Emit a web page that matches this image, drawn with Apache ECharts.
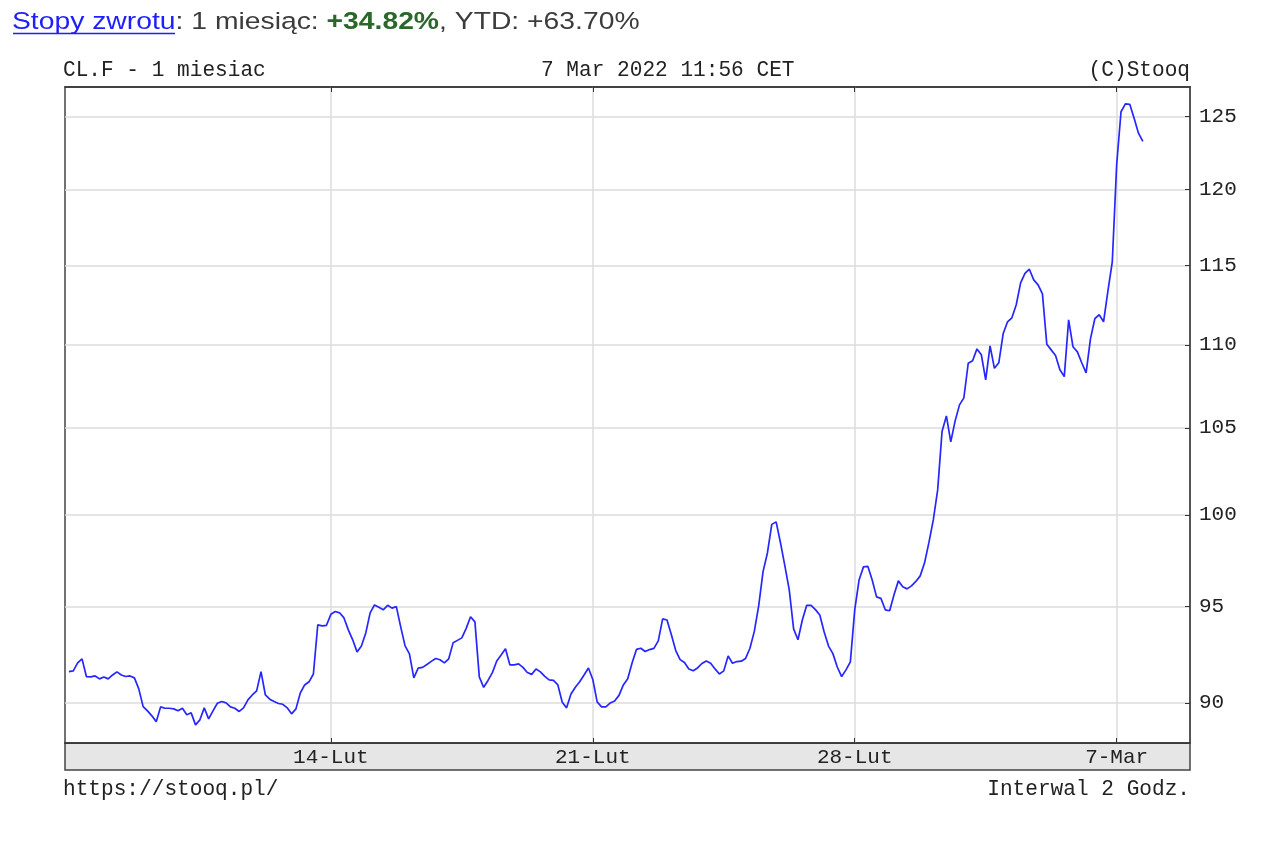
<!DOCTYPE html>
<html><head><meta charset="utf-8">
<script src="https://cdn.jsdelivr.net/npm/echarts@6/dist/echarts.min.js"></script>
<style>html,body{margin:0;padding:0;background:#fff}#c{width:1280px;height:853px}</style>
</head><body><div id="c"></div>
<script>
// 2-hour bars, index 0 = Mon 7-Lut 00:00 CET (60 bars per trading week)
const weekTicks = [60, 120, 180, 240];
const weekLabels = ['14-Lut', '21-Lut', '28-Lut', '7-Mar'];
const priceTicks = [90, 95, 100, 105, 110, 115, 120, 125];
const prices = [
  91.59, 91.63, 92.04, 92.25, 91.34, 91.32, 91.37, 91.22, 91.32, 91.22,
  91.42, 91.58, 91.42, 91.34, 91.37, 91.27, 90.71, 89.81, 89.60, 89.35,
  89.06, 89.80, 89.73, 89.73, 89.70, 89.60, 89.73, 89.40, 89.50, 88.90,
  89.15, 89.75, 89.20, 89.60, 89.98, 90.07, 90.00, 89.80, 89.73, 89.57,
  89.75, 90.15, 90.40, 90.61, 91.59, 90.40, 90.19, 90.07, 89.97, 89.93,
  89.75, 89.45, 89.70, 90.50, 90.91, 91.07, 91.47, 94.02, 93.97, 94.00,
  94.58, 94.73, 94.66, 94.39, 93.76, 93.24, 92.61, 92.92, 93.60, 94.66,
  95.08, 94.95, 94.82, 95.06, 94.91, 94.99, 93.92, 92.92, 92.51, 91.27,
  91.77, 91.81, 91.96, 92.12, 92.27, 92.20, 92.04, 92.25, 93.08, 93.21,
  93.34, 93.84, 94.45, 94.18, 91.32, 90.79, 91.14, 91.54, 92.14, 92.45,
  92.77, 91.94, 91.94, 91.99, 91.81, 91.55, 91.45, 91.73, 91.58, 91.35,
  91.17, 91.14, 90.91, 90.03, 89.75, 90.45, 90.79, 91.07, 91.42, 91.78,
  91.19, 90.05, 89.80, 89.80, 90.00, 90.10, 90.38, 90.91, 91.23, 92.03,
  92.74, 92.80, 92.63, 92.73, 92.79, 93.18, 94.34, 94.28, 93.50, 92.68,
  92.21, 92.06, 91.73, 91.64, 91.78, 92.01, 92.14, 92.02, 91.73, 91.47,
  91.63, 92.40, 92.02, 92.11, 92.13, 92.27, 92.80, 93.68, 95.03, 96.87,
  97.89, 99.47, 99.61, 98.44, 97.18, 95.89, 93.81, 93.24, 94.28, 95.06,
  95.06, 94.83, 94.54, 93.65, 92.91, 92.52, 91.83, 91.34, 91.68, 92.09,
  94.82, 96.42, 97.13, 97.16, 96.42, 95.51, 95.43, 94.82, 94.77, 95.62,
  96.37, 96.05, 95.94, 96.10, 96.34, 96.64, 97.35, 98.47, 99.72, 101.41,
  104.78, 105.70, 104.18, 105.41, 106.36, 106.78, 108.87, 109.02, 109.75, 109.39,
  107.86, 109.94, 108.56, 108.90, 110.68, 111.43, 111.68, 112.50, 113.89, 114.50,
  114.76, 114.08, 113.76, 113.19, 110.03, 109.69, 109.34, 108.47, 108.06, 111.55,
  109.88, 109.57, 108.90, 108.29, 110.37, 111.62, 111.87, 111.43, 113.38, 115.24,
  121.68, 125.35, 125.91, 125.87, 124.89, 123.85, 123.28
];

const mono = '"Liberation Mono", "DejaVu Sans Mono", monospace';
const sans = '"Liberation Sans", Arial, sans-serif';
const chart = echarts.init(document.getElementById('c'), null, {renderer: 'canvas'});
chart.setOption({
  animation: false,
  backgroundColor: '#ffffff',
  graphic: [
    {type: 'rect', z: -10, shape: {x: 65, y: 743, width: 1125, height: 27},
     style: {fill: '#e6e6e6', stroke: '#444', lineWidth: 1.5}},
    {type: 'text', x: 12, y: 10, scaleX: 1.155, style: {
      text: '{a|Stopy zwrotu}{b|: 1 miesiąc: }{c|+34.82%}{b|, YTD: +63.70%}',
      verticalAlign: 'top',
      rich: {
        a: {font: '24.5px ' + sans, fill: '#1e1eff'},
        b: {font: '24.5px ' + sans, fill: '#3c3c3c'},
        c: {font: 'bold 24.5px ' + sans, fill: '#2b672b'}
      }
    }},
    {type: 'line', shape: {x1: 13, y1: 33.5, x2: 175, y2: 33.5}, style: {stroke: '#1e1eff', lineWidth: 1.4}},
    {type: 'text', x: 63, y: 59, scaleX: 0.96, style: {text: 'CL.F - 1 miesiac', font: '22px ' + mono, fill: '#222', verticalAlign: 'top'}},
    {type: 'text', x: 541, y: 59, scaleX: 0.96, style: {text: '7 Mar 2022 11:56 CET', font: '22px ' + mono, fill: '#222', verticalAlign: 'top'}},
    {type: 'text', x: 1190, y: 59, scaleX: 0.96, style: {text: '(C)Stooq', font: '22px ' + mono, fill: '#222', align: 'right', verticalAlign: 'top'}},
    {type: 'text', x: 63, y: 778, scaleX: 0.96, style: {text: 'https://stooq.pl/', font: '22px ' + mono, fill: '#222', verticalAlign: 'top'}},
    {type: 'text', x: 1190, y: 778, scaleX: 0.96, style: {text: 'Interwal 2 Godz.', font: '22px ' + mono, fill: '#222', align: 'right', verticalAlign: 'top'}}
  ],
  grid: {left: 65, right: 90, top: 87, bottom: 110, show: true, borderColor: '#444', borderWidth: 1.5, backgroundColor: '#fff'},
  xAxis: [
    {
      type: 'value', min: -0.9, max: 256.8, position: 'bottom',
      axisLine: {show: true, onZero: false, lineStyle: {color: '#333', width: 1.5}},
      axisTick: {show: true, inside: true, length: 5, customValues: weekTicks, lineStyle: {color: '#333'}},
      axisLabel: {show: true, customValues: weekTicks, margin: 4, fontFamily: mono, fontSize: 21, color: '#222',
        formatter: v => weekLabels[weekTicks.indexOf(Math.round(v))] || ''},
      splitLine: {show: true, lineStyle: {color: '#dcdcdc', width: 1.5}}
    },
    {
      type: 'value', min: -0.9, max: 256.8, position: 'top',
      axisLine: {show: true, onZero: false, lineStyle: {color: '#333', width: 1.5}},
      axisTick: {show: true, inside: true, length: 5, customValues: weekTicks, lineStyle: {color: '#333'}},
      axisLabel: {show: false},
      splitLine: {show: false}
    }
  ],
  yAxis: {
    type: 'log', logBase: 10, min: 88, max: 127.1, position: 'right',
    axisLine: {show: true, onZero: false, lineStyle: {color: '#555', width: 2}},
    axisTick: {show: true, inside: true, length: 5, customValues: priceTicks, lineStyle: {color: '#333'}},
    axisLabel: {show: true, customValues: priceTicks, margin: 9, fontFamily: mono, fontSize: 21, color: '#222',
      formatter: v => String(Math.round(v))},
    splitLine: {show: true, lineStyle: {color: '#dcdcdc', width: 1.5}}
  },
  series: [{
    type: 'line', xAxisIndex: 0, yAxisIndex: 0,
    data: prices.map((v, i) => [i, v]),
    showSymbol: false, smooth: false,
    lineStyle: {color: '#2626ff', width: 1.7}
  }]
});
</script></body></html>
